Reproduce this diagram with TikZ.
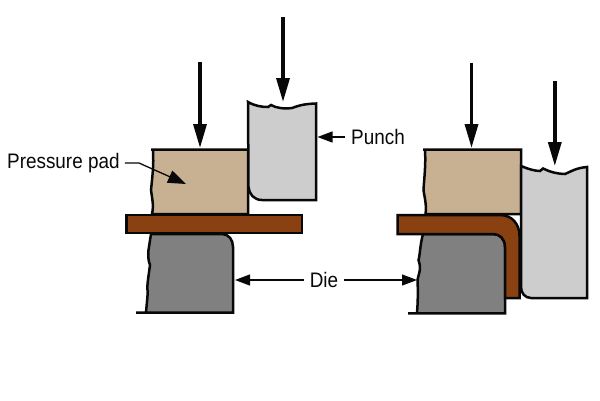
\documentclass[tikz,border=0pt]{standalone}
\usepackage{fontspec}
\setmainfont{Liberation Sans}
\usetikzlibrary{arrows.meta}
\definecolor{padc}{HTML}{C8B093}
\definecolor{punchc}{HTML}{CDCDCD}
\definecolor{diec}{HTML}{808080}
\definecolor{sheetc}{HTML}{8A4112}
\definecolor{ink}{HTML}{080808}
\tikzset{
  part/.style={draw=ink,line width=2.5pt,line join=miter},
  force/.style={draw=ink,line width=3.4pt,-{Triangle[length=24pt,width=13pt,fill=ink]}},
  lead/.style={draw=ink,line width=1.3pt,-{Triangle[length=15pt,width=11pt,fill=ink]}},
  padlead/.style={draw=ink,line width=1.3pt,-{Triangle[length=18pt,width=13pt,fill=ink]}},
  lab/.style={inner sep=0pt,font=\fontsize{21}{21}\selectfont,text=ink,xscale=0.9}
}
\begin{document}
\begin{tikzpicture}[x=1pt,y=-1pt]
\useasboundingbox (0,0) rectangle (600,400);
% left die
\draw[part,fill=diec] (151,234) -- (222,234) .. controls (229,234) and (233,240) .. (233,247) -- (233,312.5) -- (136,312.5) -- (146,312.5)
  .. controls (147,300) and (148,295) .. (147.5,290) .. controls (147,285) and (148,280) .. (150,265) .. controls (148,260) and (148,255) .. (148.5,250) -- cycle;
% left sheet
\draw[part,fill=sheetc] (126.5,215) rectangle (302,233);
% left pad
\draw[part,fill=padc] (151,149.5) -- (248,149.5) -- (248,214) -- (152,214) .. controls (154,205) and (152,198) .. (151,190) .. controls (152,180) and (154,165) .. (153,150);
% left punch
\draw[part,fill=punchc] (248,102) .. controls (255,106) and (262,107) .. (268,107) -- (271,105) .. controls (276,108) and (284,109) .. (292,108) .. controls (298,106) and (302,104) .. (316,103.5)
  -- (316,200) -- (262,200) .. controls (254,200) and (249,194) .. (248.5,187) -- cycle;
% right die
\draw[part,fill=diec] (423,234) -- (493,234) .. controls (500,234) and (505,239) .. (505,247) -- (505,313.3) -- (408,313.3) -- (417,313.3)
  .. controls (418,300) and (418,290) .. (417.5,280) .. controls (418,275) and (422,270) .. (418.5,260) .. controls (420,255) and (420,245) .. (423,234) -- cycle;
% right pad
\draw[part,fill=padc] (423,149.5) -- (521,149.5) -- (521,214) -- (425.5,214) .. controls (427,205) and (424,195) .. (423.5,190) .. controls (424,180) and (426,165) .. (425,150);
% right punch
\draw[part,fill=punchc] (521,166) .. controls (528,169) and (535,171) .. (540,171) -- (543,168.5) .. controls (550,172) and (558,174) .. (565,174) .. controls (572,171) and (576,168) .. (587,167)
  -- (587,298) -- (531,298) .. controls (525,298) and (521,293) .. (521,287) -- cycle;
% right sheet
\draw[part,fill=sheetc] (397.5,215) -- (500,215) .. controls (512,215) and (519.5,224) .. (519.5,236) -- (519.5,298) -- (505,298) -- (505,247) .. controls (505,239) and (500,234) .. (493,234) -- (397.5,234) -- cycle;
% labels
\node[lab,anchor=west] (pp) at (7,163) {Pressure pad};
\node[lab,anchor=west] (pu) at (351,137) {Punch};
\node[lab] (di) at (324,280) {Die};
% targets
\coordinate (a1s) at (200,62); \coordinate (a1e) at (200,148);
\coordinate (a2s) at (283,17); \coordinate (a2e) at (283,102);
\coordinate (a3s) at (471.5,62.5); \coordinate (a3e) at (471.5,148);
\coordinate (a4s) at (554.8,81); \coordinate (a4e) at (554.8,166);
\coordinate (ppk) at (139,163); \coordinate (ppe) at (186,184);
\coordinate (pux) at (317.5,0);
\coordinate (d1x) at (235,0);
\coordinate (d2x) at (417,0);
\draw[force] (a1s) -- (a1e);
\draw[force] (a2s) -- (a2e);
\draw[force] (a3s) -- (a3e);
\draw[force] (a4s) -- (a4e);
\draw[padlead] (pp.east) ++(5,0) -- (ppk) -- (ppe);
\draw[lead] (pu.west) ++(-6,0) -- (pu.west -| pux);
\draw[lead] (di.west) ++(-6,0) -- (di.west -| d1x);
\draw[lead] (di.east) ++(6,0) -- (di.east -| d2x);
\end{tikzpicture}
\end{document}
